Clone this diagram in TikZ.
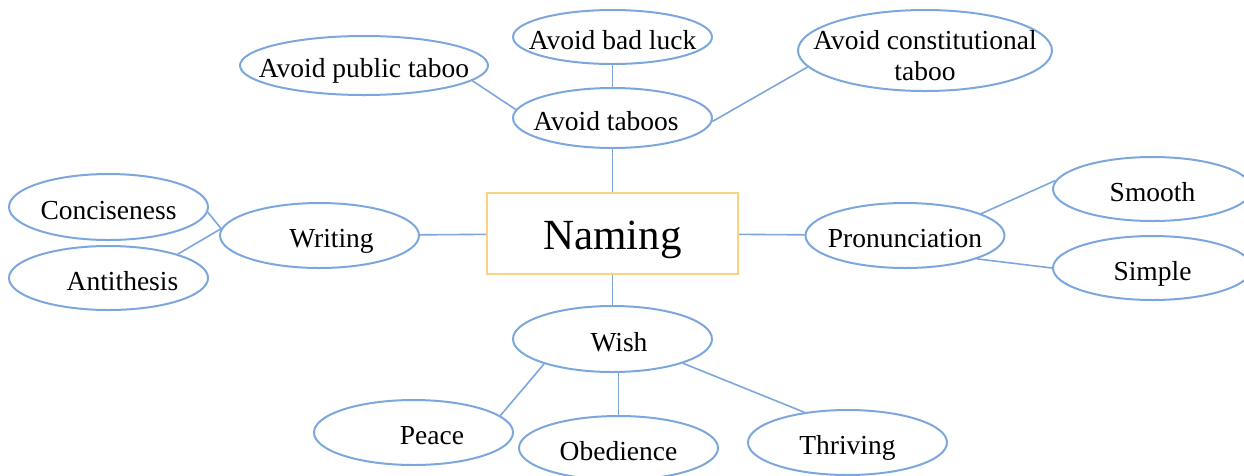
\documentclass[tikz,border=0pt]{standalone}
\usepackage{fontspec}
\setmainfont{Liberation Serif}
\usetikzlibrary{shapes.geometric}

\definecolor{linkblue}{RGB}{124,167,221}
\definecolor{rootgold}{RGB}{248,212,128}

\tikzset{
  bubble/.style={ellipse, draw=linkblue, line width=2pt,
    inner xsep=-25pt, inner ysep=-6pt,
    minimum width=199pt, minimum height=65pt,
    text height=24pt, text depth=0pt,
    font=\fontsize{27.5}{31}\selectfont},
  link/.style={draw=linkblue, line width=1.6pt},
}

\begin{document}
\begin{tikzpicture}[x=1pt,y=-1pt]
\useasboundingbox (0,0) rectangle (1244,475);

% Root
\node[draw=rootgold, line width=2pt, minimum width=251pt, minimum height=81pt,
  text height=32pt, text depth=0pt, font=\fontsize{43}{48}\selectfont]
  (naming) at (612.5,233.5) {Naming};

% Taboo branch
\node[bubble, minimum height=60pt] (taboos) at (612.5,118) {Avoid taboos\hspace*{13pt}};
\node[bubble, minimum height=54pt] (luck) at (612.5,37) {Avoid bad luck};
\node[bubble, minimum width=248pt, minimum height=59pt] (public) at (364,65.5) {Avoid public taboo};
\node[bubble, minimum width=254pt, minimum height=81pt, align=center,
  text height={}, text depth={}] (const) at (925,50.5) {\rule{0pt}{30pt}Avoid constitutional\\taboo};

% Writing branch
\node[bubble] (writing) at (319.5,235.5) {\hspace*{24pt}Writing};
\node[bubble, minimum height=66pt] (conc) at (108.5,207) {Conciseness};
\node[bubble, minimum height=64pt] (anti) at (108.5,278) {\hspace*{28pt}Antithesis};

% Pronunciation branch
\node[bubble] (pron) at (905,235.5) {Pronunciation};
\node[bubble, minimum height=64pt] (smooth) at (1152.5,189) {Smooth};
\node[bubble, minimum height=64pt] (simple) at (1152.5,268) {Simple};

% Wish branch
\node[bubble, minimum height=66pt] (wish) at (612.5,339) {\hspace*{13pt}Wish};
\node[bubble] (peace) at (413.5,432.5) {\hspace*{37pt}Peace};
\node[bubble, minimum height=64pt] (obed) at (618.5,448) {Obedience};
\node[bubble] (thriv) at (847.5,442.5) {Thriving};

% Links
\foreach \a/\b in {luck/taboos, taboos/naming, naming/writing, naming/pron, naming/wish}
  \draw[link] (\a) -- (\b);
\draw[link] (public.-8) -- (taboos.175);
\draw[link] (taboos.-2) -- (const.-172);
\draw[link] (conc.-3) -- (writing.176);
\draw[link] (anti.19) -- (writing.176);
\draw[link] (pron.16) -- (smooth.175);
\draw[link] (pron.-18) -- (simple.west);
\draw[link] (wish.-160) -- (peace.11);
\draw[link] (obed.north) -- (obed.north |- wish.south);
\draw[link] (wish.-19) -- (thriv.145);

\end{tikzpicture}
\end{document}
